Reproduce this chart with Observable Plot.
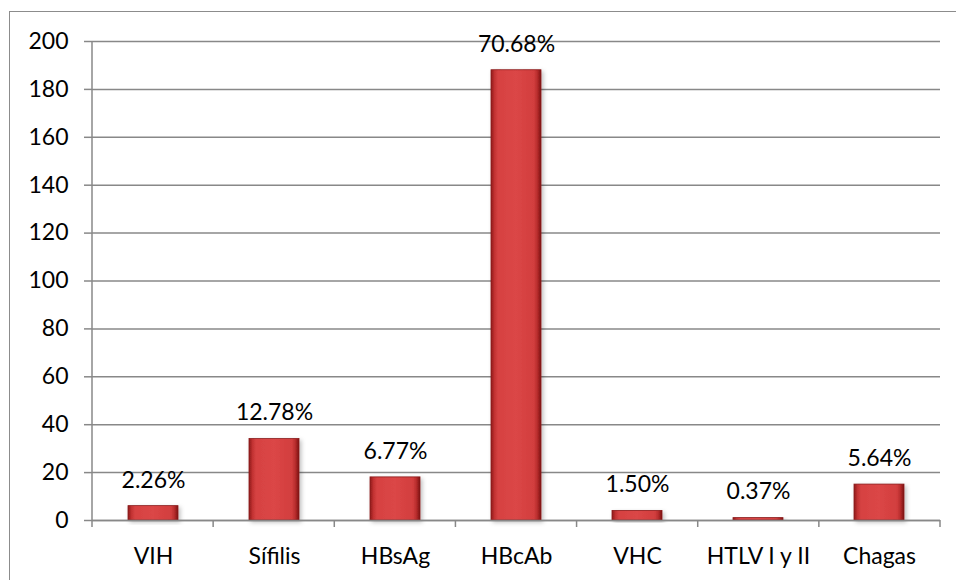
<!DOCTYPE html>
<html><head><meta charset="utf-8">
<script src="https://cdn.jsdelivr.net/npm/d3@7"></script>
<script src="https://cdn.jsdelivr.net/npm/@observablehq/plot@0.6"></script>
<style>
html,body{margin:0;padding:0;background:#fff;overflow:hidden;}
#wrap{position:relative;width:956px;height:580px;}
#border{position:absolute;left:9px;top:11px;width:1000px;height:1000px;border:1.5px solid #8c8c8c;pointer-events:none;}
</style></head><body><div id="wrap"><div id="chart"></div><div id="border"></div></div>
<script>
const categories = ["VIH", "Sífilis", "HBsAg", "HBcAb", "VHC", "HTLV I y II", "Chagas"];
const counts = [6, 34, 18, 188, 4, 1, 15];
const pctLabels = ["2.26%", "12.78%", "6.77%", "70.68%", "1.50%", "0.37%", "5.64%"];
const yTicks = [0, 20, 40, 60, 80, 100, 120, 140, 160, 180, 200];

const data = categories.map((c, i) => ({cat: c, value: counts[i], label: pctLabels[i]}));

function decorations(index, scales, values, dims) {
  const g = d3.create("svg:g");
  const defs = g.append("defs");
  const grad = defs.append("linearGradient").attr("id", "barGrad").attr("x1", "0").attr("x2", "1").attr("y1", "0").attr("y2", "0");
  [["0%", "#8e1a1a"], ["7%", "#c23232"], ["14%", "#d64242"], ["50%", "#db4646"], ["86%", "#d23e3e"], ["93%", "#b52b2b"], ["100%", "#7a1414"]]
    .forEach(([o, c]) => grad.append("stop").attr("offset", o).attr("stop-color", c));
  const f = defs.append("filter").attr("id", "barShadow").attr("x", "-20%").attr("y", "-20%").attr("width", "150%").attr("height", "150%");
  f.append("feDropShadow").attr("dx", 2).attr("dy", 2).attr("stdDeviation", 2).attr("flood-color", "#000").attr("flood-opacity", 0.25);
  const left = dims.marginLeft, right = dims.width - dims.marginRight;
  const top = dims.marginTop, bottom = dims.height - dims.marginBottom;
  const n = categories.length;
  g.append("line").attr("x1", left).attr("x2", left).attr("y1", top).attr("y2", bottom + 7)
    .attr("stroke", "#888").attr("stroke-width", 1.5);
  for (let i = 1; i <= n; i++) {
    const xp = left + i * (right - left) / n;
    g.append("line").attr("x1", xp).attr("x2", xp).attr("y1", bottom).attr("y2", bottom + 7)
      .attr("stroke", "#888").attr("stroke-width", 1.5);
  }
  return g.node();
}

const chart = Plot.plot({
  width: 956,
  height: 580,
  marginLeft: 92,
  marginRight: 16,
  marginTop: 41,
  marginBottom: 60,
  style: {fontFamily: "Lato, 'Open Sans', sans-serif", fontSize: "23px", color: "#000", background: "transparent"},
  x: {domain: categories, paddingInner: 0.59, paddingOuter: 0.295, label: null},
  y: {domain: [0, 200], label: null},
  marks: [
    Plot.gridY(yTicks, {stroke: "#888", strokeOpacity: 1, strokeWidth: 1.5}),
    Plot.axisY({ticks: yTicks, tickSize: 8, tickPadding: 16, fontSize: 23, stroke: "#888", strokeWidth: 1.5, fill: "#000", label: null}),
    Plot.axisX({tickSize: 0, tickPadding: 27, fontSize: 23, fill: "#000", label: null}),
    decorations,
    Plot.barY(data, {x: "cat", y: "value", fill: "url(#barGrad)", stroke: "#8a1a1a", strokeWidth: 0.8, filter: null, style: {}}),
    Plot.ruleY([0], {stroke: "#888", strokeWidth: 1.5}),
    Plot.text(data, {x: "cat", y: "value", text: "label", dy: -26, fontSize: 23, fill: "#000"})
  ]
});
chart.querySelectorAll("rect").forEach(r => { if ((r.getAttribute("fill") || "").includes("barGrad") || (r.parentNode.getAttribute("fill") || "").includes("barGrad")) r.setAttribute("filter", "url(#barShadow)"); });
document.getElementById("chart").appendChild(chart);
</script>
</body></html>
